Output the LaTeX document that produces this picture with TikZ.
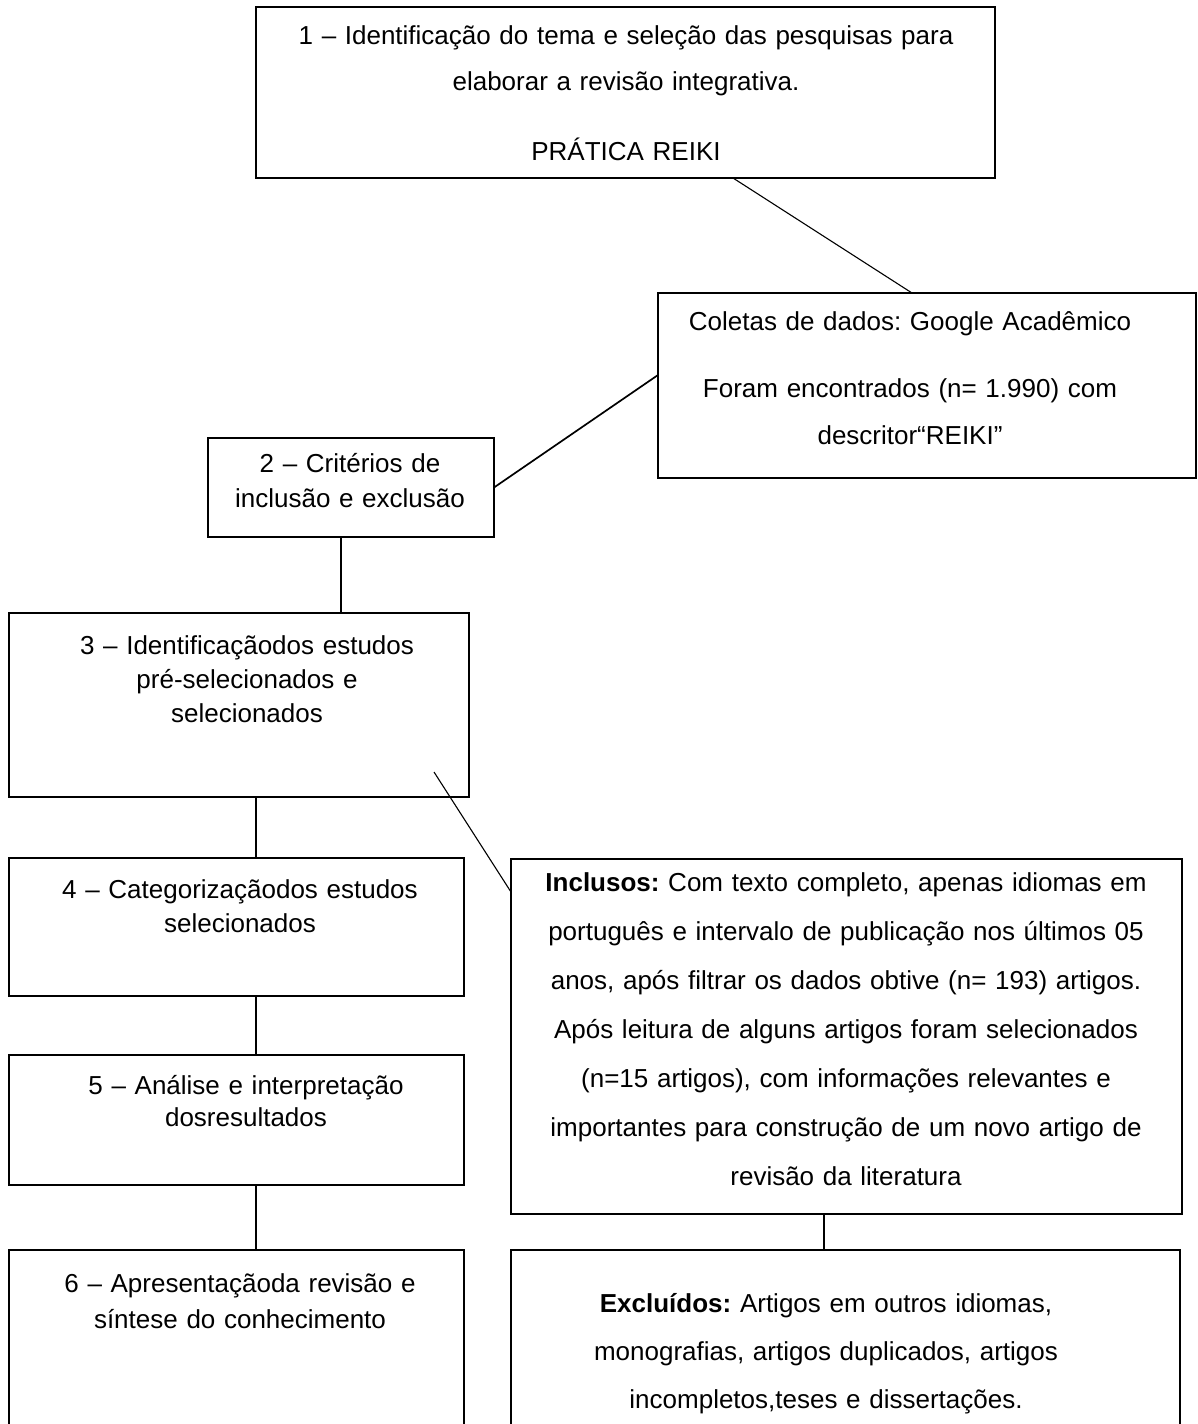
\documentclass[tikz,border=0pt]{standalone}
\usepackage{fontspec}
\setmainfont{Liberation Sans}
\frenchspacing
\usetikzlibrary{calc}
\begin{document}
\begin{tikzpicture}[x=1pt,y=-1pt,
  box/.style={draw=black, line width=2.4pt, anchor=north west, inner sep=0pt, outer sep=0pt},
  txt/.style={anchor=base, align=center, inner sep=0pt, text width=760pt, font=\fontsize{26}{#1}\selectfont\frenchspacing},
  conn/.style={draw=black, line width=1.1pt},
  connb/.style={draw=black, line width=1.7pt}
]
\useasboundingbox (0,0) rectangle (1198,1424);
\fill[white] (0,0) rectangle (1198,1424);

% boxes
\node[box, minimum width=739pt, minimum height=171pt] (b1) at (256,7) {};
\node[box, minimum width=538pt, minimum height=185pt] (bc) at (658,293) {};
\node[box, minimum width=286pt, minimum height=99pt] (b2) at (208,438) {};
\node[box, minimum width=460pt, minimum height=184pt] (b3) at (9,613) {};
\node[box, minimum width=455pt, minimum height=138pt] (b4) at (9,858) {};
\node[box, minimum width=455pt, minimum height=130pt] (b5) at (9,1055) {};
\node[box, minimum width=455pt, minimum height=200pt] (b6) at (9,1250) {};
\node[box, minimum width=671pt, minimum height=355pt] (bi) at (511,859) {};
\node[box, minimum width=669pt, minimum height=200pt] (be) at (511,1250) {};

% texts
\node[txt=47pt] (t1) at (626,44) {1 – Identificação do tema e seleção das pesquisas para\\ elaborar a revisão integrativa.\\[22pt] PRÁTICA REIKI};
\node[txt=47pt] (tc) at (910,330) {Coletas de dados: Google Acadêmico\\[20pt] Foram encontrados (n= 1.990) com\\ descritor“REIKI”};
\node[txt=35pt] (t2) at (350,472) {2 – Critérios de\\ inclusão e exclusão};
\node[txt=34pt] (t3) at (247,654) {3 – Identificaçãodos estudos\\ pré-selecionados e\\ selecionados};
\node[txt=34pt] (t4) at (240,898) {4 – Categorizaçãodos estudos\\ selecionados};
\node[txt=32pt] (t5) at (246,1094) {5 – Análise e interpretação\\ dosresultados};
\node[txt=36pt] (t6) at (240,1292) {6 – Apresentaçãoda revisão e\\ síntese do conhecimento};
\node[txt=49pt] (ti) at (846,891) {\textbf{Inclusos:} Com texto completo, apenas idiomas em\\ português e intervalo de publicação nos últimos 05\\ anos, após filtrar os dados obtive (n= 193) artigos.\\ Após leitura de alguns artigos foram selecionados\\ (n=15 artigos), com informações relevantes e\\ importantes para construção de um novo artigo de\\ revisão da literatura};
\node[txt=48pt] (te) at (826,1312) {\textbf{Excluídos:} Artigos em outros idiomas,\\ monografias, artigos duplicados, artigos\\ incompletos,teses e dissertações.};

% connectors
\coordinate (c7s) at (434,772);
\draw[conn] (733,0 |- b1.south) -- (912,0 |- bc.north);
\draw[connb] (b2.east) -- (bc.west |- 0,375);
\draw[connb] (341,0 |- b2.south) -- (341,0 |- b3.north);
\draw[conn] (256,0 |- b3.south) -- (256,0 |- b4.north);
\draw[conn] (256,0 |- b4.south) -- (256,0 |- b5.north);
\draw[conn] (256,0 |- b5.south) -- (256,0 |- b6.north);
\draw[conn] (c7s) -- (bi.west |- 0,892);
\draw[conn] (824,0 |- bi.south) -- (824,0 |- be.north);
\end{tikzpicture}
\end{document}
